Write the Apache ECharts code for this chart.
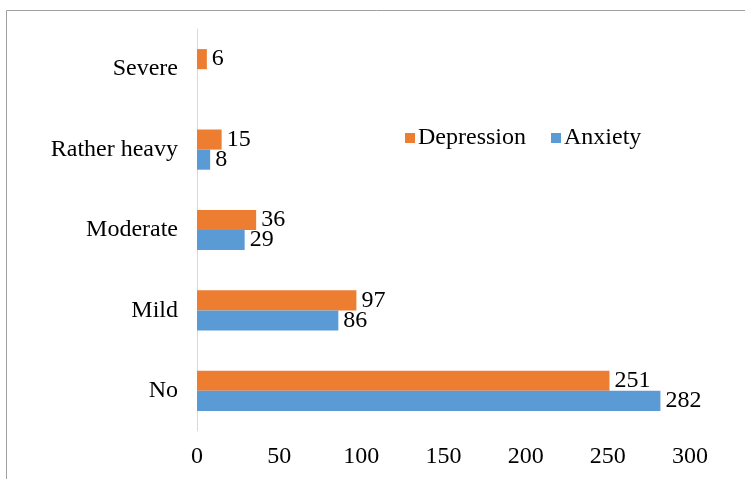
<!DOCTYPE html>
<html>
<head>
<meta charset="utf-8">
<script src="https://cdn.jsdelivr.net/npm/echarts@6/dist/echarts.min.js"></script>
<style>
html,body{margin:0;padding:0;background:#fff;}
#main{width:745px;height:479px;}
</style>
</head>
<body>
<div id="main"></div>
<script>
const categories = ['No', 'Mild', 'Moderate', 'Rather heavy', 'Severe'];
const depression = [251, 97, 36, 15, 6];
const anxiety = [282, 86, 29, 8, 0];
const xTicks = [0, 50, 100, 150, 200, 250, 300];

const FONT = '"Liberation Serif", "Times New Roman", serif';
const chart = echarts.init(document.getElementById('main'), null, {renderer: 'canvas'});
const hideZero = p => (p.value === 0 ? '' : String(p.value));

chart.setOption({
  animation: false,
  backgroundColor: '#fff',
  textStyle: {fontFamily: FONT},
  graphic: [{
    type: 'rect',
    shape: {x: 6.5, y: 10.5, width: 800, height: 600},
    style: {fill: 'none', stroke: '#a0a0a0', lineWidth: 1},
    silent: true
  }],
  grid: {left: 197, right: 55, top: 29, bottom: 48, containLabel: false},
  legend: {
    data: ['Depression', 'Anxiety'],
    left: 400,
    top: 121,
    itemWidth: 10,
    itemHeight: 10,
    itemGap: 25,
    icon: 'rect',
    textStyle: {fontFamily: FONT, fontSize: 24, color: '#000', padding: [0, 0, 0, -2]}
  },
  xAxis: {
    type: 'value',
    min: xTicks[0],
    max: xTicks[xTicks.length - 1],
    interval: 50,
    axisLine: {show: false},
    axisTick: {show: false},
    splitLine: {show: false},
    axisLabel: {fontFamily: FONT, fontSize: 24, color: '#000', margin: 14}
  },
  yAxis: {
    type: 'category',
    data: categories,
    axisLine: {show: true, lineStyle: {color: '#d9d9d9', width: 1}},
    axisTick: {show: false},
    axisLabel: {fontFamily: FONT, fontSize: 24, color: '#000', margin: 19}
  },
  series: [
    {
      name: 'Depression',
      type: 'bar',
      data: depression,
      barGap: '0%',
      barCategoryGap: '50%',
      itemStyle: {color: '#ED7D31'},
      label: {show: true, position: 'right', distance: 5, fontFamily: FONT, fontSize: 24, color: '#000', formatter: hideZero}
    },
    {
      name: 'Anxiety',
      type: 'bar',
      data: anxiety,
      barGap: '0%',
      barCategoryGap: '50%',
      itemStyle: {color: '#5B9BD5'},
      label: {show: true, position: 'right', distance: 5, fontFamily: FONT, fontSize: 24, color: '#000', formatter: hideZero}
    }
  ]
});
</script>
</body>
</html>
